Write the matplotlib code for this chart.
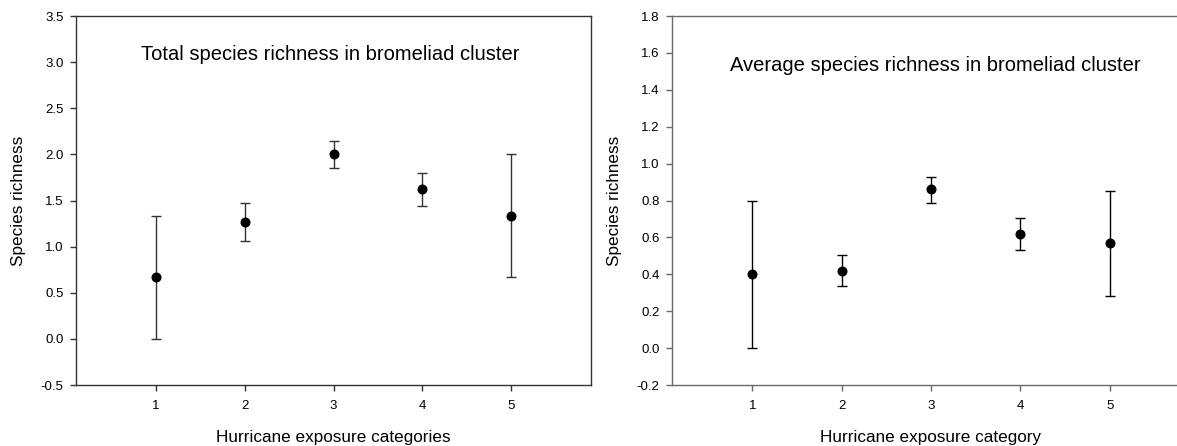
import matplotlib.pyplot as plt

plt.rcParams['font.family'] = ['Liberation Sans', 'DejaVu Sans']

categories = [1, 2, 3, 4, 5]

# left panel: total species richness (mean, lower error, upper error)
total_mean = [0.67, 1.27, 2.00, 1.625, 1.335]
total_err_lo = [0.67, 0.21, 0.15, 0.18, 0.665]
total_err_hi = [0.665, 0.20, 0.15, 0.17, 0.665]

# right panel: average species richness
avg_mean = [0.40, 0.42, 0.86, 0.62, 0.57]
avg_err_lo = [0.40, 0.085, 0.075, 0.09, 0.285]
avg_err_hi = [0.40, 0.085, 0.07, 0.087, 0.28]

fig = plt.figure(figsize=(11.77, 4.46), dpi=100)

ax1 = fig.add_axes([76 / 1177, 1 - 385 / 446, 515 / 1177, 369 / 446])
ax2 = fig.add_axes([672 / 1177, 1 - 385 / 446, 518 / 1177, 369 / 446])


def draw_panel(ax, mean, lo, hi, ylim, yticks, title, title_xy, xlabel,
               spine_col, bar_col):
    ax.errorbar(categories, mean, yerr=[lo, hi], fmt='o', color='black',
                ecolor=bar_col, elinewidth=1.0, capsize=3.6, capthick=1.0,
                markersize=6.2)
    ax.set_xlim(0.1, 5.9)
    ax.set_ylim(*ylim)
    ax.set_xticks(categories)
    ax.set_yticks(yticks)
    ax.set_yticklabels([f"{t:.1f}" for t in yticks])
    ax.tick_params(direction='out', length=4, width=1.0, labelsize=9.5,
                   color=spine_col, top=False, right=False)
    ax.tick_params(axis='x', pad=7)
    ax.tick_params(axis='y', pad=5)
    for sp in ax.spines.values():
        sp.set_linewidth(1.0)
        sp.set_color(spine_col)
    ax.set_xlabel(xlabel, fontsize=12.3)
    ax.set_ylabel("Species richness", fontsize=12.3)
    ax.xaxis.set_label_coords(0.5, -0.122)
    ax.yaxis.set_label_coords(-0.097, 0.5)
    ax.text(title_xy[0], title_xy[1], title, transform=ax.transAxes,
            ha='center', va='baseline', fontsize=14.5)


draw_panel(ax1, total_mean, total_err_lo, total_err_hi, (-0.5, 3.5),
           [-0.5, 0.0, 0.5, 1.0, 1.5, 2.0, 2.5, 3.0, 3.5],
           "Total species richness in bromeliad cluster",
           (0.493, 0.881),
           "Hurricane exposure categories", '#333333', '#333333')

draw_panel(ax2, avg_mean, avg_err_lo, avg_err_hi, (-0.2, 1.8),
           [-0.2, 0.0, 0.2, 0.4, 0.6, 0.8, 1.0, 1.2, 1.4, 1.6, 1.8],
           "Average species richness in bromeliad cluster",
           (0.509, 0.851),
           "Hurricane exposure category", '#6a6a6a', 'black')

fig.savefig("out.png", dpi=100)
